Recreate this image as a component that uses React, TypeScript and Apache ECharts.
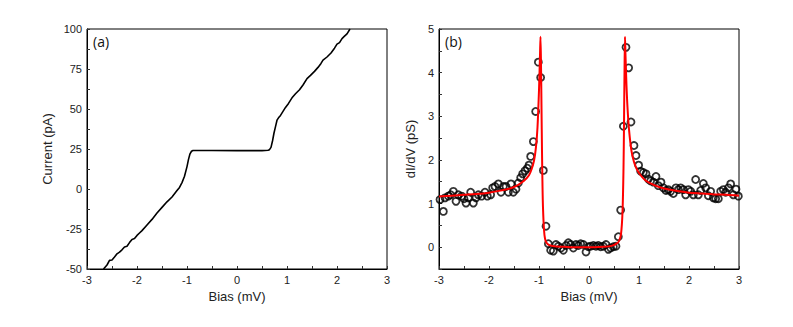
import React, { useEffect, useRef } from "react";
import * as echarts from "echarts";

// (a) I-V curve
const ivBias = [-2.67, -2.6, -2.55, -2.5, -2.45, -2.4, -2.35, -2.3, -2.25, -2.2, -2.15, -2.1, -2.05, -2.0, -1.95, -1.9, -1.8, -1.7, -1.6, -1.5, -1.4, -1.3, -1.2, -1.15, -1.1, -1.05, -1.0, -0.97, -0.94, -0.91, -0.88, -0.85, -0.5, 0, 0.5, 0.62, 0.65, 0.68, 0.71, 0.74, 0.77, 0.8, 0.83, 0.87, 0.92, 0.97, 1.03, 1.1, 1.17, 1.25, 1.32, 1.4, 1.47, 1.55, 1.62, 1.68, 1.72, 1.8, 1.88, 1.95, 2.0, 2.05, 2.1, 2.15, 2.2, 2.26];
const ivCurrent = [-50, -47.5, -44.6, -44.4, -42.5, -40.5, -39.5, -38, -36.2, -35.8, -33.5, -31.5, -31, -29, -27.5, -26, -22.5, -19, -15, -11.5, -8, -5, -1, 1, 4, 8, 14, 18.5, 22, 23.6, 24.1, 24.1, 24.1, 24, 24, 24.2, 24.6, 26, 30, 35, 39, 43, 44.5, 46, 48.5, 51, 53.5, 57, 59.5, 62, 65, 69, 71, 73.5, 76, 78.5, 80.5, 82.5, 85, 88, 90.5, 91.5, 94, 95.5, 97, 100];

// (b) dI/dV measured points
const didvBias = [-2.98, -2.913, -2.88, -2.813, -2.767, -2.713, -2.66, -2.613, -2.547, -2.5, -2.46, -2.413, -2.367, -2.313, -2.26, -2.213, -2.147, -2.08, -2.033, -1.967, -1.927, -1.88, -1.813, -1.76, -1.713, -1.66, -1.613, -1.56, -1.513, -1.46, -1.413, -1.367, -1.327, -1.28, -1.233, -1.2, -1.167, -1.113, -1.067, -1.013, -0.967, -0.913, -0.86, -0.813, -0.767, -0.713, -0.66, -0.613, -0.56, -0.513, -0.46, -0.413, -0.367, -0.313, -0.26, -0.213, -0.167, -0.113, -0.06, -0.013, 0.033, 0.087, 0.14, 0.187, 0.233, 0.287, 0.34, 0.387, 0.433, 0.487, 0.54, 0.587, 0.633, 0.687, 0.74, 0.793, 0.84, 0.9, 0.94, 0.993, 1.033, 1.087, 1.14, 1.187, 1.233, 1.287, 1.34, 1.387, 1.44, 1.487, 1.54, 1.587, 1.633, 1.687, 1.74, 1.787, 1.833, 1.887, 1.933, 1.987, 2.033, 2.087, 2.133, 2.187, 2.233, 2.287, 2.333, 2.387, 2.433, 2.487, 2.533, 2.587, 2.633, 2.687, 2.733, 2.787, 2.833, 2.887, 2.94, 2.987];
const didvValue = [1.09, 0.82, 1.13, 1.17, 1.2, 1.28, 1.05, 1.2, 1.17, 1.11, 1.01, 1.13, 1.26, 1.01, 1.13, 1.2, 1.17, 1.26, 1.17, 1.2, 1.36, 1.39, 1.45, 1.26, 1.39, 1.39, 1.26, 1.45, 1.26, 1.33, 1.47, 1.59, 1.68, 1.75, 1.81, 1.88, 2.08, 2.42, 3.11, 4.24, 3.89, 1.76, 0.48, 0.08, -0.07, -0.09, 0.06, 0.02, -0.02, -0.07, 0.04, 0.1, 0.06, -0.02, 0.06, 0.04, 0.08, 0.06, -0.11, 0.01, 0.02, 0.04, 0.02, 0.04, 0.01, 0.02, 0.06, -0.05, -0.02, 0.01, 0.02, 0.24, 0.85, 2.77, 4.58, 4.11, 2.87, 2.33, 2.1, 1.88, 1.74, 1.71, 1.68, 1.56, 1.52, 1.49, 1.62, 1.41, 1.49, 1.36, 1.3, 1.32, 1.28, 1.23, 1.36, 1.32, 1.36, 1.32, 1.2, 1.32, 1.28, 1.2, 1.55, 1.2, 1.3, 1.46, 1.36, 1.18, 1.28, 1.13, 1.11, 1.11, 1.28, 1.32, 1.26, 1.36, 1.45, 1.2, 1.33, 1.17];

// (b) fit curve
const fitBias = [-3, -2.75, -2.5, -2.25, -2, -1.8, -1.6, -1.5, -1.4, -1.3, -1.2, -1.15, -1.1, -1.06, -1.03, -1.0, -0.98, -0.97, -0.96, -0.95, -0.94, -0.93, -0.92, -0.9, -0.88, -0.85, -0.8, -0.7, -0.5, -0.3, -0.1, 0.1, 0.3, 0.45, 0.55, 0.6, 0.64, 0.67, 0.69, 0.7, 0.71, 0.72, 0.73, 0.75, 0.77, 0.8, 0.85, 0.9, 0.95, 1.0, 1.1, 1.2, 1.4, 1.6, 1.8, 2.0, 2.25, 2.5, 2.75, 3.0];
const fitValue = [1.16, 1.18, 1.2, 1.22, 1.25, 1.29, 1.34, 1.38, 1.44, 1.52, 1.65, 1.78, 1.98, 2.3, 2.75, 3.6, 4.4, 4.82, 4.2, 3.2, 2.2, 1.4, 0.9, 0.4, 0.2, 0.1, 0.05, 0.02, 0.01, 0.0, 0.0, 0.0, 0.01, 0.03, 0.08, 0.14, 0.3, 0.8, 1.8, 2.8, 4.0, 4.82, 4.4, 3.7, 3.2, 2.7, 2.2, 1.95, 1.8, 1.7, 1.56, 1.48, 1.38, 1.32, 1.28, 1.25, 1.23, 1.21, 1.2, 1.18];

const xTicks = [-3, -2, -1, 0, 1, 2, 3];
const ivTicks = [-50, -25, 0, 25, 50, 75, 100];
const didvTicks = [0, 1, 2, 3, 4, 5];

const FONT = "Liberation Sans, Arial, sans-serif";

function xAxisCfg(gridIndex: number) {
  return {
    type: "value" as const,
    gridIndex,
    min: -3,
    max: 3,
    interval: 0.5,
    name: "Bias (mV)",
    nameLocation: "middle" as const,
    nameGap: 21,
    nameTextStyle: { fontFamily: FONT, fontSize: 13, color: "#222" },
    axisLine: { show: true, onZero: false, lineStyle: { color: "#000", width: 1 } },
    axisTick: { show: true, inside: true, length: 3, lineStyle: { color: "#333" } },
    axisLabel: {
      fontFamily: FONT,
      fontSize: 11,
      color: "#222",
      margin: 5,
      formatter: (v: number) => (xTicks.includes(v) ? String(v) : ""),
    },
    splitLine: { show: false },
  };
}

export default function App() {
  const ref = useRef<HTMLDivElement>(null);
  useEffect(() => {
    if (!ref.current) return;
    const chart = echarts.init(ref.current, undefined, { renderer: "svg" });
    chart.setOption({
      animation: false,
      backgroundColor: "#fff",
      grid: [
        { left: 79, right: 398, top: 21, bottom: 50, show: true, borderColor: "#000", borderWidth: 1, backgroundColor: "transparent" },
        { left: 431, right: 46, top: 21, bottom: 50, show: true, borderColor: "#000", borderWidth: 1, backgroundColor: "transparent" },
      ],
      xAxis: [xAxisCfg(0), xAxisCfg(1)],
      yAxis: [
        {
          type: "value",
          gridIndex: 0,
          min: -50,
          max: 100,
          interval: 12.5,
          name: "Current (pA)",
          nameLocation: "middle",
          nameGap: 33,
          nameTextStyle: { fontFamily: FONT, fontSize: 13, color: "#222" },
          axisLine: { show: true, onZero: false, lineStyle: { color: "#000", width: 1 } },
          axisTick: { show: true, inside: true, length: 3, lineStyle: { color: "#333" } },
          axisLabel: {
            fontFamily: FONT,
            fontSize: 11,
            color: "#222",
            margin: 5,
            formatter: (v: number) => (ivTicks.includes(v) ? String(v) : ""),
          },
          splitLine: { show: false },
        },
        {
          type: "value",
          gridIndex: 1,
          min: -0.5,
          max: 5,
          interval: 0.5,
          name: "dI/dV (pS)",
          nameLocation: "middle",
          nameGap: 22,
          nameTextStyle: { fontFamily: FONT, fontSize: 13, color: "#222" },
          axisLine: { show: true, onZero: false, lineStyle: { color: "#000", width: 1 } },
          axisTick: { show: true, inside: true, length: 3, lineStyle: { color: "#333" } },
          axisLabel: {
            fontFamily: FONT,
            fontSize: 11,
            color: "#222",
            margin: 5,
            formatter: (v: number) => (didvTicks.includes(v) ? String(v) : ""),
          },
          splitLine: { show: false },
        },
      ],
      graphic: [
        { type: "text", left: 85, top: 26, style: { text: "(a)", font: "14px 'Open Sans', sans-serif", fill: "#111" } },
        { type: "text", left: 437, top: 26, style: { text: "(b)", font: "14px 'Open Sans', sans-serif", fill: "#111" } },
      ],
      series: [
        {
          type: "line",
          xAxisIndex: 0,
          yAxisIndex: 0,
          data: ivBias.map((b, i) => [b, ivCurrent[i]]),
          showSymbol: false,
          symbol: "none",
          lineStyle: { color: "#000", width: 1.6 },
          clip: true,
        },
        {
          type: "scatter",
          xAxisIndex: 1,
          yAxisIndex: 1,
          data: didvBias.map((b, i) => [b, didvValue[i]]),
          symbol: "circle",
          symbolSize: 7,
          itemStyle: { color: "transparent", borderColor: "#000", borderWidth: 1.8 },
          z: 2,
        },
        {
          type: "line",
          xAxisIndex: 1,
          yAxisIndex: 1,
          data: fitBias.map((b, i) => [b, fitValue[i]]),
          showSymbol: false,
          symbol: "none",
          smooth: 0.3,
          lineStyle: { color: "#ff0000", width: 2 },
          z: 3,
        },
      ],
    });
    return () => chart.dispose();
  }, []);
  return <div ref={ref} style={{ width: 777, height: 311 }} />;
}
